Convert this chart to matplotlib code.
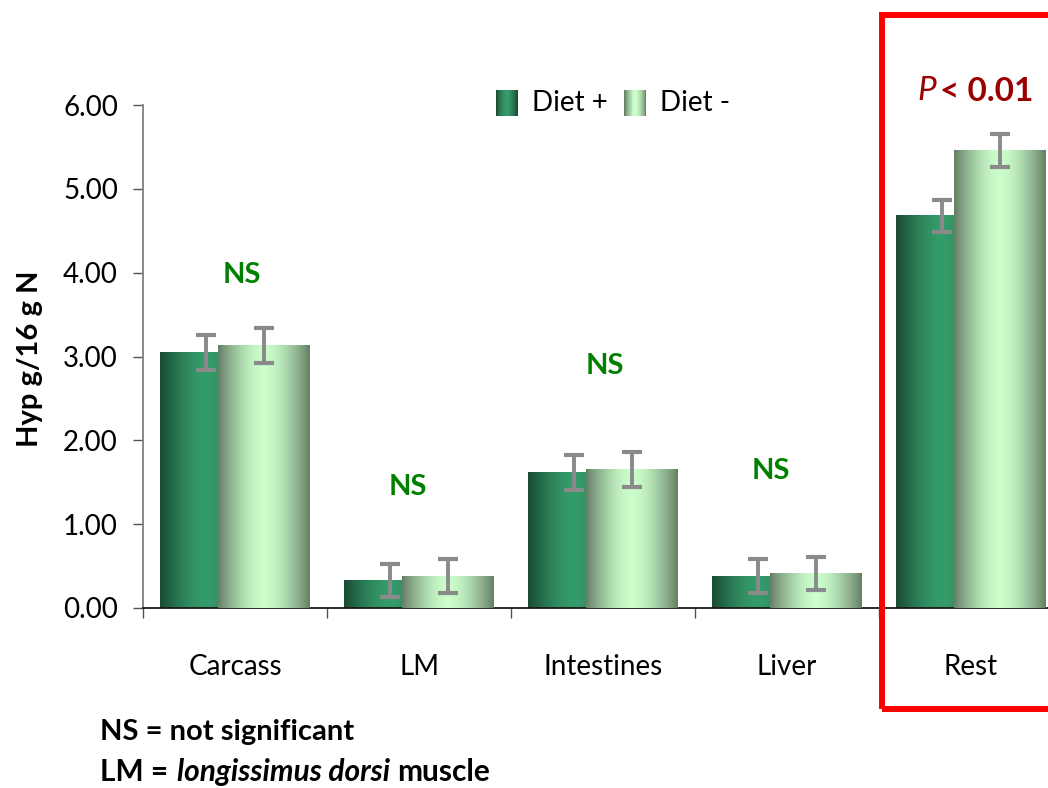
import numpy as np
import matplotlib
matplotlib.use("Agg")
import matplotlib.pyplot as plt
from matplotlib.patches import Rectangle, Patch
from matplotlib.legend_handler import HandlerBase

# ---------------- data ----------------
categories = ["Carcass", "LM", "Intestines", "Liver", "Rest"]
diet_plus = [3.05, 0.33, 1.62, 0.38, 4.68]
diet_minus = [3.13, 0.38, 1.65, 0.41, 5.46]
err_plus = [0.21, 0.20, 0.21, 0.20, 0.19]
err_minus = [0.21, 0.20, 0.21, 0.20, 0.20]
series_labels = ["Diet +", "Diet -"]
yticks = [0, 1, 2, 3, 4, 5, 6]
ns_label = "NS"

# ---------------- style ----------------
FONT = "Lato"
plt.rcParams["font.family"] = [FONT, "DejaVu Sans"]
W, H = 1048, 788
fig = plt.figure(figsize=(W / 100, H / 100), dpi=100)
ax = fig.add_axes([143 / W, 180 / H, 905 / W, 503 / H])

PLUS_DARK = np.array([0x1a, 0x4a, 0x33]) / 255
PLUS_LIGHT = np.array([0x34, 0x9c, 0x6a]) / 255
MINUS_DARK = np.array([0x66, 0x7f, 0x66]) / 255
MINUS_LIGHT = np.array([0xcc, 0xff, 0xcc]) / 255


def gradient(dark, light, n=128, power=1.6):
    t = np.linspace(0, 1, n)
    d = np.abs(2 * t - 1) ** power
    return light[None, :] * (1 - d[:, None]) + dark[None, :] * d[:, None]


grad_plus = gradient(PLUS_DARK, PLUS_LIGHT)
grad_minus = gradient(MINUS_DARK, MINUS_LIGHT)

x = np.arange(len(categories))
width = 0.5
offset = 0.155

bars_p = ax.bar(x - offset, diet_plus, width, color="none", linewidth=0, zorder=2)
bars_m = ax.bar(x + offset, diet_minus, width, color="none", linewidth=0, zorder=3)

for bars, grad in ((bars_p, grad_plus), (bars_m, grad_minus)):
    for p in bars:
        x0, w, h = p.get_x(), p.get_width(), p.get_height()
        ax.imshow(grad[None, :, :], extent=(x0, x0 + w, 0, h), aspect="auto",
                  interpolation="bilinear", zorder=p.get_zorder())

err_kw = dict(fmt="none", ecolor="#8a8a8a", elinewidth=2.8, capsize=7.2,
              capthick=3.0, zorder=6)
ax.errorbar(x - offset, diet_plus, yerr=err_plus, **err_kw)
ax.errorbar(x + offset, diet_minus, yerr=err_minus, **err_kw)

# axes styling
for s in ("top", "right"):
    ax.spines[s].set_visible(False)
ax.spines["left"].set_color("#808080")
ax.spines["left"].set_linewidth(1.3)
ax.spines["bottom"].set_color("#1a1a1a")
ax.spines["bottom"].set_linewidth(1.3)

ax.set_yticks(yticks)
ax.set_yticklabels([f"{v:.2f}" for v in yticks])
ax.tick_params(axis="y", direction="out", length=7, width=1.0, color="#555555",
               labelsize=20, pad=11)

ax.set_xticks(np.arange(len(categories) + 1) - 0.5)
ax.set_xticklabels([])
ax.tick_params(axis="x", which="major", direction="out", length=7, width=1.0,
               color="#555555")
ax.set_xticks(x, minor=True)
ax.set_xticklabels(categories, minor=True)
ax.tick_params(axis="x", which="minor", length=0, labelsize=20, pad=33)

ax.set_xlim(-0.5, -0.5 + 905 / 184)
ax.set_ylim(0, 6)

ax.set_ylabel("Hyp g/16 g N", fontsize=21, fontweight="bold")
ax.yaxis.set_label_coords(-0.11, 0.495)

# NS annotations
ns_pos = [(0.04, 3.97), (0.94, 1.44), (2.01, 2.89), (2.91, 1.63)]
for (nx, ny) in ns_pos:
    ax.text(nx, ny, ns_label, color="#008000", fontsize=21, fontweight="bold",
            ha="center", va="center", zorder=7)


# legend with gradient swatches
class GradHandler(HandlerBase):
    def __init__(self, grad):
        super().__init__()
        self.grad = grad

    def create_artists(self, legend, orig_handle, xdescent, ydescent, width,
                       height, fontsize, trans):
        n = 24
        cols = self.grad[np.linspace(0, len(self.grad) - 1, n).astype(int)]
        arts = []
        sw = width / n
        for i, c in enumerate(cols):
            arts.append(Rectangle((-xdescent + i * sw, -ydescent - 0.15 * height),
                                  sw * 1.05, height * 1.15, facecolor=c,
                                  edgecolor="none", transform=trans))
        return arts


h_p = Patch(label=series_labels[0])
h_m = Patch(label=series_labels[1])
leg = fig.legend(handles=[h_p, h_m], loc="center",
                 bbox_to_anchor=(613 / W, 1 - 103 / H), ncol=2, frameon=False,
                 fontsize=20, handlelength=0.8, handleheight=0.85,
                 handletextpad=0.5, columnspacing=0.6,
                 handler_map={h_p: GradHandler(grad_plus),
                              h_m: GradHandler(grad_minus)})

# red box around "Rest"
fig.add_artist(Rectangle((882 / W, (H - 709) / H), 0.3, (709 - 15) / H,
                         transform=fig.transFigure, fill=False,
                         edgecolor="#ff0000", linewidth=4.3, zorder=10))


def rich_text(x_px, y_px, runs, size, color):
    prev = None
    for s, style, weight, gap in runs:
        if prev is None:
            t = fig.text(x_px / W, 1 - y_px / H, s, fontsize=size, style=style,
                         fontweight=weight, color=color, ha="left",
                         va="baseline")
        else:
            t = ax.annotate(s, xy=(1, 0), xycoords=prev,
                            xytext=(gap * size, 0), textcoords="offset points",
                            fontsize=size, style=style, fontweight=weight,
                            color=color, ha="left", va="bottom",
                            annotation_clip=False)
        prev = t


rich_text(917, 100, [("P", "italic", "normal", 0),
                     ("< 0.01", "normal", "bold", 0.12)], 24, "#9b0000")

rich_text(100, 740, [("NS = not significant", "normal", "bold", 0)], 21, "black")
rich_text(100, 781, [("LM =", "normal", "bold", 0),
                     ("longissimus dorsi", "italic", "bold", 0.3),
                     ("muscle", "normal", "bold", 0.24)], 21.5, "black")

fig.savefig("out.png", dpi=100)
